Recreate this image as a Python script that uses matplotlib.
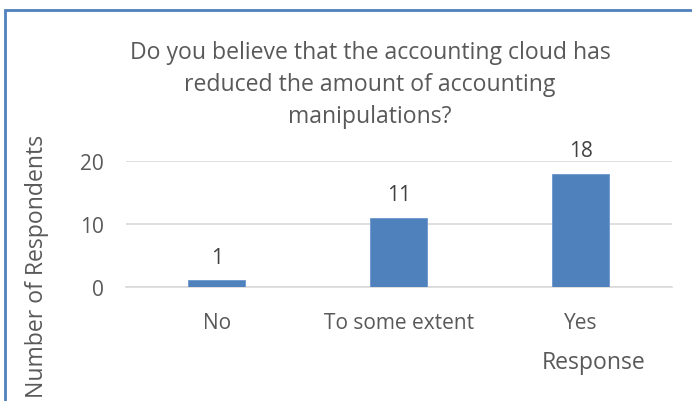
import matplotlib.pyplot as plt
from matplotlib.patches import Rectangle

plt.rcParams['font.family'] = ['Open Sans', 'DejaVu Sans']

categories = ["No", "To some extent", "Yes"]
counts = [1, 11, 18]
yticks = [0, 10, 20]
title_lines = ["Do you believe that the accounting cloud has",
               "reduced the amount of accounting",
               "manipulations?"]

W, H = 692, 402
fig = plt.figure(figsize=(W / 100, H / 100), dpi=100)
txt = "#595959"

# axes placed in pixel coordinates of the reference
left, right, bottom, top = 125.7, 671.7, 287.7, 162.3
ax = fig.add_axes([left / W, 1 - bottom / H, (right - left) / W, (bottom - top) / H])

x = range(len(categories))
bars = ax.bar(x, counts, width=0.313, color="#4F81BD", edgecolor="#6B96CC", linewidth=0.6, zorder=3)
for xi, v in zip(x, counts):
    ax.annotate(str(v), (xi, v), xytext=(0, 9), textcoords="offset points",
                ha="center", va="bottom", fontsize=15, color="#404040", annotation_clip=False)

ax.set_xlim(-0.5, 2.5)
ax.set_ylim(0, 20)
ax.set_yticks(yticks)
ax.set_xticks(list(x))
ax.set_xticklabels(categories)
ax.grid(axis="y", color="#D9D9D9", linewidth=1.2, zorder=0)
ax.tick_params(axis="both", length=0, labelsize=15, colors=txt)
ax.tick_params(axis="y", pad=16)
ax.tick_params(axis="x", pad=18)
for s in ax.spines.values():
    s.set_visible(False)
ax.spines["bottom"].set_visible(True)
ax.spines["bottom"].set_color("#D9D9D9")
ax.spines["bottom"].set_linewidth(1.2)

# title lines
for i, line in enumerate(title_lines):
    fig.text(370 / W, 1 - (53 + 32 * i) / H, line, ha="center", va="center",
             fontsize=16.6, color=txt)

fig.text(37 / W, 1 - 266 / H, "Number of Respondents", rotation=90,
         ha="center", va="center", fontsize=16.6, color=txt)
fig.text(594 / W, 1 - 363 / H, "Response", ha="center", va="center",
         fontsize=16.6, color=txt)

# chart border (cut off on right and bottom in the reference)
fig.patches.append(Rectangle((5 / W, -0.1), 1.2, 1 - 11 / H + 0.1, transform=fig.transFigure,
                             fill=False, edgecolor="#4F81BD", linewidth=2, figure=fig))

fig.savefig("out.png", dpi=100)
